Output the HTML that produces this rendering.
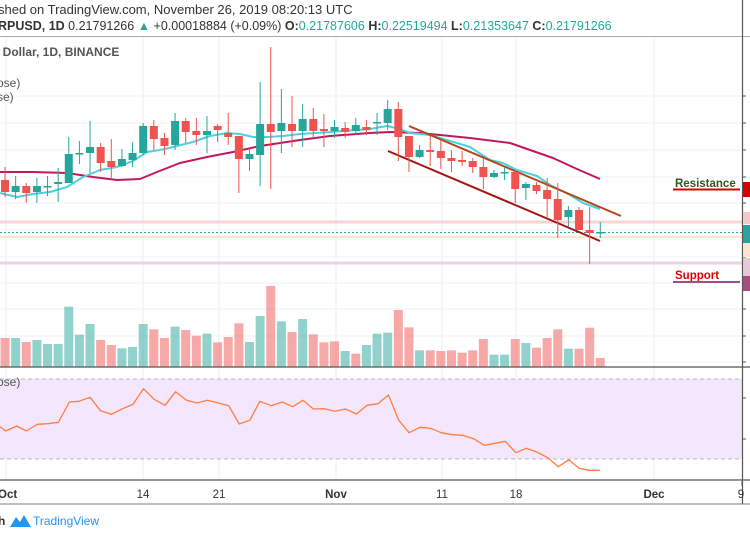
<!DOCTYPE html>
<html><head><meta charset="utf-8"><style>
html,body{margin:0;padding:0;background:#fff;width:750px;height:536px;overflow:hidden;font-family:"Liberation Sans",sans-serif}
svg{position:absolute;left:0;top:0}
</style></head><body>
<svg id="s" width="750" height="536" viewBox="0 0 750 536" xmlns="http://www.w3.org/2000/svg">
<rect width="750" height="536" fill="#fff"/>
<text x="-2" y="14" font-size="13" fill="#333">shed on TradingView.com, November 26, 2019 08:20:13 UTC</text>
<text x="-2" y="30" font-size="12.5" fill="#333"><tspan font-weight="bold">RPUSD, 1D</tspan> 0.21791266 <tspan fill="#26a69a">▲</tspan> +0.00018884 (+0.09%) <tspan font-weight="bold">O:</tspan><tspan fill="#26a69a">0.21787606</tspan> <tspan font-weight="bold">H:</tspan><tspan fill="#26a69a">0.22519494</tspan> <tspan font-weight="bold">L:</tspan><tspan fill="#26a69a">0.21353647</tspan> <tspan font-weight="bold">C:</tspan><tspan fill="#26a69a">0.21791266</tspan></text>
<line x1="0" y1="36.5" x2="750" y2="36.5" stroke="#aaa"/>
<g id="g"></g>
</svg>
<script>
var g=document.getElementById('g'),h='';
function L(x1,y1,x2,y2,c,w,d){h+='<line x1="'+x1+'" y1="'+y1+'" x2="'+x2+'" y2="'+y2+'" stroke="'+c+'" stroke-width="'+(w||1)+'"'+(d?' stroke-dasharray="'+d+'"':'')+'/>';}
function R(x,y,w,hh,c){h+='<rect x="'+x+'" y="'+y+'" width="'+w+'" height="'+hh+'" fill="'+c+'"/>';}
function P(pts,c,w){h+='<polyline fill="none" stroke="'+c+'" stroke-width="'+w+'" stroke-linejoin="round" points="'+pts.map(function(p){return p[0]+','+p[1]}).join(' ')+'"/>';}
function T(x,y,s,sz,c,b,a){h+='<text x="'+x+'" y="'+y+'" font-size="'+sz+'" fill="'+c+'"'+(b?' font-weight="bold"':'')+(a?' text-anchor="'+a+'"':'')+'>'+s+'</text>';}
// grid
[6,143,219,336,442,516,654].forEach(function(x){L(x,37,x,480,'#e8eef5');});
[96,123,150,177,203,230,257,283,309,336,362].forEach(function(y){L(0,y,742,y,'#eef2f7');});
[398,439].forEach(function(y){L(0,y,742,y,'#eef2f7');});
// horizontal levels
L(0,222,742,222,'#f9d4d4',3);L(0,237,742,237,'#fde4cc',2);L(0,263,742,263,'#ecd3de',3);
L(0,232.5,742,232.5,'#26a69a',1,'2,2');
// MAs
var cy=[[0,193],[17,197],[33,194],[50,192],[67,187],[83,177],[100,170],[117,167],[133,161],[147,152],[160,150],[177,146],[193,142],[210,136],[227,133],[240,134],[253,137],[267,137],[283,136],[300,134],[330,132],[370,129],[387,126],[400,129],[410,133],[430,135],[457,143],[470,147],[490,160],[503,163],[517,170],[537,176],[550,185],[570,195],[583,203],[600,209]];
var mg=[[0,172],[33,172],[67,173],[93,177],[117,180],[140,179],[157,172],[180,163],[207,157],[233,152],[260,146],[300,140],[330,136],[370,133],[390,132],[420,133],[470,138],[510,143],[530,150],[553,158],[577,169],[600,179]];
P(mg,'#c2185b',2);P(cy,'#4dd0e1',2);
// trend lines
L(409,126,621,216,'#b5451b',2);L(388,151,600,241,'#a31515',2);
// candles
var C=[['r',180,192,167,197],['g',192,186,176,199],['r',186,193,183,203],['g',192,186,178,203],['g',187,186,176,196],['g',184,182,168,202],['g',183,154,137,183],['g',154,153,141,164],['g',153,147,121,173],['r',147,163,143,172],['r',161,167,139,178],['g',166,159,149,167],['g',160,153,142,167],['g',153,126,123,155],['r',126,139,120,150],['r',138,146,133,155],['g',145,121,113,150],['r',121,132,118,143],['r',131,135,118,145],['g',135,131,116,153],['r',126,130,124,142],['r',133,137,113,145],['r',136,159,136,193],['g',159,154,147,171],['g',155,124,82,186],['r',124,132,47,189],['g',131,123,89,153],['r',124,131,96,147],['g',131,119,104,147],['r',119,131,108,138],['r',129,131,114,147],['g',131,127,120,138],['r',128,132,122,138],['g',131,125,118,135],['r',127,130,120,135],['g',123,122,113,135],['g',123,109,100,130],['r',109,137,102,161],['r',136,157,136,172],['g',157,150,145,158],['r',150,152,136,166],['r',151,158,140,169],['r',158,161,150,172],['r',160,162,151,166],['r',161,167,158,173],['r',167,177,158,189],['g',177,173,170,178],['g',173,172,167,180],['r',172,189,170,203],['g',188,184,182,200],['r',185,191,182,194],['r',190,199,178,217],['r',199,220,183,238],['g',217,210,206,227],['r',210,230,207,230],['r',230,233,207,264],['g',233,232,222,238]];
C.forEach(function(c,i){var x=5+10.63*i,col=c[0]=='g'?'#26a69a':'#ef5350';L(x,c[3],x,c[4],col,1);var t=Math.min(c[1],c[2]),b=Math.max(c[1],c[2]);R(x-4,t,8,Math.max(b-t,1.5),col);});
// volume
var V='r174g174r186g180g192g192g80g164g132r180r195g205g201g132r148r174g140r150r167g161r187r171r130g186g108r18g124r156g117r163r187r184g213r221g195g161g158r90r142g211r211r213r211r218r211r177g224g224r177g189r203r174r148g206r206r143r234'.match(/[rg]\d+/g);
V.forEach(function(v,i){var x=5+10.63*i,y=280+(+v.slice(1))/3;R(x-4.5,y,9,367-y,v[0]=='g'?'rgba(38,166,154,0.5)':'rgba(239,83,80,0.5)');});
L(0,367,750,367,'#555',1.2);
// RSI
R(0,379,742,80,'#f3e6fd');L(0,379,742,379,'#bbb',1,'4,3');L(0,459,742,459,'#bbb',1,'4,3');
var rs=[[0,440],[12,453],[35,438],[55,453],[78,433],[100,431],[122,427],[145,366],[165,364],[188,352],[210,392],[233,403],[255,387],[278,373],[300,326],[322,358],[345,376],[367,335],[390,361],[412,369],[433,361],[455,368],[478,377],[500,432],[522,421],[543,364],[567,377],[590,366],[612,380],[633,361],[655,387],[678,386],[700,394],[722,387],[745,402],[767,376],[790,371],[812,345],[833,420],[855,458],[878,442],[900,445],[922,458],[945,464],[967,466],[990,476],[1012,496],[1035,490],[1056,484],[1078,518],[1100,505],[1122,516],[1145,533],[1167,560],[1189,539],[1210,565],[1232,571],[1254,571]].map(function(p){return [(p[0]/2.09).toFixed(1),(280+p[1]/3).toFixed(1)];});
P(rs,'#ff7f3f',1.3);
L(0,480,750,480,'#555',1.2);L(0,504,750,504,'#999',1.2);
L(742.5,0,742.5,504,'#555',1.2);
// axis ticks
[96,123,150,177,203,230,257,283,309,336,362,398,439].forEach(function(y){L(742,y,746,y,'#555');});
// right tags
R(743,182,7,15,'#d50000');R(743,212,7,12,'#f5c9c9');R(743,225,7,18,'#26a69a');R(743,243,7,14,'#fde4cc');R(743,258,7,18,'#e3c8d6');R(743,276,7,15,'#ab4c7e');
// labels
T(675,187,'Resistance',11.5,'#2e5a1c',true);L(673,189.5,740,189.5,'#d50000',2);
T(675,279,'Support',11.5,'#e00000',true);L(673,282,740,282,'#a05080',2);
T(-4,56,'. Dollar, 1D, BINANCE',12,'#555',true);
T(-3,87,'ose)',12,'#555');T(-3,101,'se)',12,'#555');T(-3,386,'ose)',12,'#555');
// dates
T(-2,498,'Oct',11.5,'#333',true);T(143,498,'14',11.5,'#333',false,'middle');T(219,498,'21',11.5,'#333',false,'middle');T(336,498,'Nov',11.5,'#333',true,'middle');T(442,498,'11',11.5,'#333',false,'middle');T(516,498,'18',11.5,'#333',false,'middle');T(654,498,'Dec',11.5,'#333',true,'middle');T(741,498,'9',11.5,'#333',false,'middle');
L(742,481,742,486,'#555');
// footer
T(-2,525,'h',12,'#333',true);
h+='<path d="M10 527 L16 517 L20 522 L24 515 L31 527 Z" fill="#2196f3"/>';
T(33,525,'TradingView',12,'#2196f3');
g.innerHTML=h;
</script>
</body></html>
